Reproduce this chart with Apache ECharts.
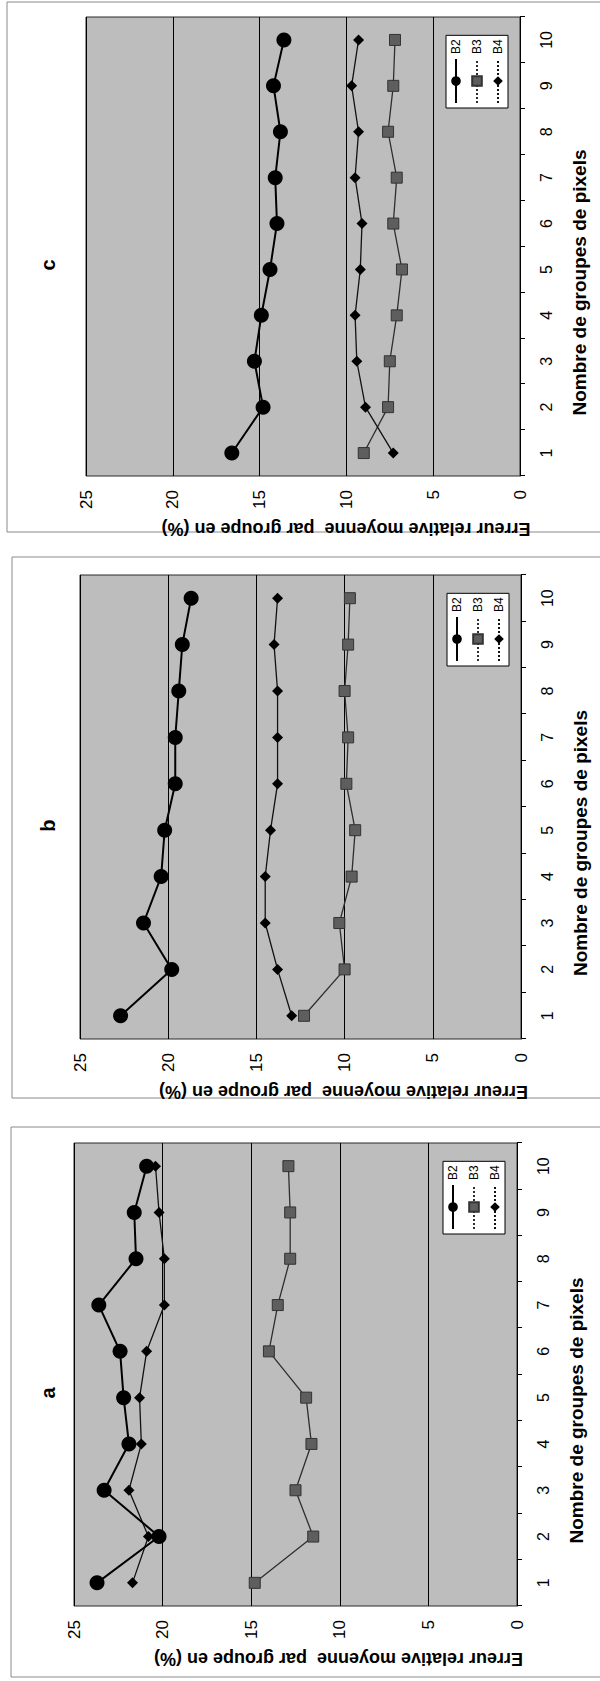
<!DOCTYPE html>
<html>
<head>
<meta charset="utf-8">
<script src="https://cdn.jsdelivr.net/npm/echarts@6/dist/echarts.min.js"></script>
<style>
  html, body { margin: 0; padding: 0; background: #ffffff; }
  body { width: 600px; height: 1681px; overflow: hidden; position: relative; }
  /* The three panels are laid out side by side on a landscape sheet,
     then the sheet is turned a quarter turn so it reads as a portrait page. */
  #sheet {
    position: absolute; left: 0; top: 0;
    width: 1681px; height: 600px;
    transform-origin: 0 0;
    transform: translate(0, 1681px) rotate(-90deg);
  }
</style>
</head>
<body>
<div id="sheet"></div>
<script>
// Number of pixel groups (x axis)
const categories = ['1', '2', '3', '4', '5', '6', '7', '8', '9', '10'];

// Value axis: mean relative error per group (%)
const yMin = 0;
const yMax = 25;
const yStep = 5;

// Panel titles and series names
const panelTitles = ['a', 'b', 'c'];
const seriesNames = ['B2', 'B3', 'B4'];

// Panel a
const panelA_B2 = [23.7, 20.2, 23.3, 21.9, 22.2, 22.4, 23.6, 21.5, 21.6, 20.9];
const panelA_B3 = [14.8, 11.5, 12.5, 11.6, 11.9, 14.0, 13.5, 12.8, 12.8, 12.9];
const panelA_B4 = [21.7, 20.8, 21.9, 21.2, 21.3, 20.9, 19.9, 19.9, 20.2, 20.4];

// Panel b
const panelB_B2 = [22.7, 19.8, 21.4, 20.4, 20.2, 19.6, 19.6, 19.4, 19.2, 18.7];
const panelB_B3 = [12.3, 10.0, 10.3, 9.6, 9.4, 9.9, 9.8, 10.0, 9.8, 9.7];
const panelB_B4 = [13.0, 13.8, 14.5, 14.5, 14.2, 13.8, 13.8, 13.8, 14.0, 13.8];

// Panel c
const panelC_B2 = [16.6, 14.8, 15.3, 14.9, 14.4, 14.0, 14.1, 13.8, 14.2, 13.6];
const panelC_B3 = [9.0, 7.6, 7.5, 7.1, 6.8, 7.3, 7.1, 7.6, 7.3, 7.2];
const panelC_B4 = [7.3, 8.9, 9.4, 9.5, 9.2, 9.1, 9.5, 9.3, 9.7, 9.3];

const panelData = [
  [panelA_B2, panelA_B3, panelA_B4],
  [panelB_B2, panelB_B3, panelB_B4],
  [panelC_B2, panelC_B3, panelC_B4]
];

// Plot rectangles and frames on the landscape sheet
const grids = [
  { left: 75,   top: 74, width: 463, height: 443 },
  { left: 642,  top: 80, width: 464, height: 441 },
  { left: 1205, top: 86, width: 459, height: 434 }
];
const frames = [
  { x: 4,    y: 11, width: 550 },
  { x: 583,  y: 12, width: 541 },
  { x: 1149, y: 7,  width: 530 }
];

const FONT = '"Liberation Sans", Arial, sans-serif';

const seriesStyle = [
  { symbol: 'circle',  symbolSize: 15,
    lineStyle: { color: '#000000', width: 2 },
    itemStyle: { color: '#000000' } },
  { symbol: 'rect',    symbolSize: 11,
    lineStyle: { color: '#2e2e2e', width: 1.3 },
    itemStyle: { color: '#5e5e5e', borderColor: '#333333', borderWidth: 1 } },
  { symbol: 'diamond', symbolSize: 11,
    lineStyle: { color: '#111111', width: 1.3 },
    itemStyle: { color: '#000000' } }
];

const option = {
  animation: false,
  backgroundColor: '#ffffff',
  textStyle: { fontFamily: FONT },
  title: [],
  legend: [],
  grid: [],
  xAxis: [],
  yAxis: [],
  series: [],
  graphic: []
};

grids.forEach(function (g, p) {
  const band = g.width / categories.length;

  option.grid.push({
    left: g.left, top: g.top, width: g.width, height: g.height,
    show: true,
    backgroundColor: '#bdbdbd',
    borderColor: '#2a2a2a',
    borderWidth: 1
  });

  // Panel letter, above the fifth group
  option.graphic.push({
    type: 'text',
    silent: true,
    x: g.left + band * 4.6,
    y: 48,
    style: {
      text: panelTitles[p],
      align: 'center',
      verticalAlign: 'middle',
      fontFamily: FONT,
      fontSize: 20,
      fontWeight: 'bold',
      fill: '#000'
    }
  });

  option.xAxis.push({
    type: 'category',
    gridIndex: p,
    data: categories,
    boundaryGap: true,
    name: 'Nombre de groupes de pixels',
    nameLocation: 'middle',
    nameGap: 50,
    nameTextStyle: {
      fontFamily: FONT, fontSize: 19, fontWeight: 'bold', color: '#000',
      padding: [0, 72, 0, 0]
    },
    axisLine: { show: true, lineStyle: { color: '#000', width: 1 } },
    axisTick: { show: true, length: 5, lineStyle: { color: '#000' } },
    axisLabel: { fontFamily: FONT, fontSize: 16, color: '#000', margin: 18 },
    splitLine: { show: false }
  });

  option.yAxis.push({
    type: 'value',
    gridIndex: p,
    min: yMin,
    max: yMax,
    interval: yStep,
    name: 'Erreur relative moyenne  par groupe en (%)',
    nameLocation: 'middle',
    nameGap: 44,
    nameTextStyle: {
      fontFamily: FONT, fontSize: 18, fontWeight: 'bold', color: '#000',
      padding: [0, 86, 0, 0]
    },
    axisLine: { show: false },
    axisTick: { show: false },
    axisLabel: { fontFamily: FONT, fontSize: 17, color: '#000', margin: 14 },
    splitLine: { show: true, lineStyle: { color: '#000', width: 1 } }
  });

  option.legend.push({
    orient: 'vertical',
    left: g.left + g.width - 18 - 73,
    top: g.top + g.height - 11 - 63,
    backgroundColor: '#ffffff',
    borderColor: '#000000',
    borderWidth: 1,
    borderRadius: 0,
    padding: [4, 4, 4, 4],
    itemGap: 9,
    itemWidth: 44,
    itemHeight: 12,
    textStyle: { fontFamily: FONT, fontSize: 12, color: '#000' },
    data: [
      { name: 'B2' },
      { name: 'B3', lineStyle: { type: 'dotted' } },
      { name: 'B4', lineStyle: { type: 'dotted' } }
    ]
  });

  panelData[p].forEach(function (values, s) {
    const st = seriesStyle[s];
    option.series.push({
      type: 'line',
      name: seriesNames[s],
      xAxisIndex: p,
      yAxisIndex: p,
      data: values,
      symbol: st.symbol,
      symbolSize: st.symbolSize,
      showAllSymbol: true,
      lineStyle: st.lineStyle,
      itemStyle: st.itemStyle,
      emphasis: { disabled: true },
      z: 3 + (s === 0 ? 1 : 0)
    });
  });
});

frames.forEach(function (f) {
  option.graphic.push({
    type: 'rect',
    silent: true,
    z: -1,
    shape: { x: f.x, y: f.y, width: f.width, height: 640 },
    style: { fill: null, stroke: '#8a8a8a', lineWidth: 1 }
  });
});

const chart = echarts.init(document.getElementById('sheet'), null, { renderer: 'svg', width: 1681, height: 600 });
chart.setOption(option);
</script>
</body>
</html>
